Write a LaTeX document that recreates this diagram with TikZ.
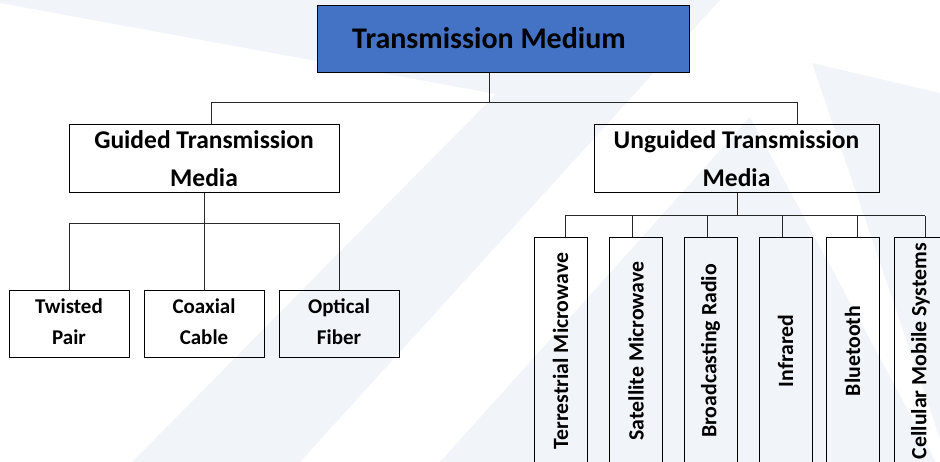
\documentclass[tikz,border=0pt]{standalone}
\usepackage{fontspec}
\setmainfont{Carlito}
\definecolor{wm}{RGB}{241,245,249}
\definecolor{topblue}{RGB}{68,114,196}
\definecolor{linegray}{RGB}{40,40,40}
\begin{document}
\begin{tikzpicture}[x=1pt,y=-1pt,
  box/.style={draw=black,line width=1pt,inner sep=0pt,align=center},
  link/.style={draw=linegray,line width=1pt}]
\useasboundingbox (0,0) rectangle (940,462);
% watermark
\fill[wm] (0,0) -- (720,0) -- (300,462) -- (132,462) -- (496,94) -- (0,3) -- cycle;
\fill[wm] (812,63) -- (940,93) -- (940,439) -- cycle;
\fill[wm] (750,117) -- (440,462) -- (936,462) -- cycle;
% nodes
\node[box,fill=topblue,minimum width=372pt,minimum height=67pt,
  font=\fontsize{30}{34}\selectfont\bfseries] (top) at (503,39.5)
  {\raisebox{4pt}{\kern-28pt Transmission Medium}};
\node[box,minimum width=270pt,minimum height=68pt,
  font=\fontsize{25.5}{38}\selectfont\bfseries] (guided) at (204,159)
  {Guided Transmission\\Media};
\node[box,minimum width=285pt,minimum height=68pt,
  font=\fontsize{25.5}{38}\selectfont\bfseries] (unguided) at (736.5,159)
  {Unguided Transmission\\Media};
\tikzset{small/.style={box,minimum width=120pt,minimum height=67pt,
  font=\fontsize{21}{31}\selectfont\bfseries,text depth=6pt}}
\node[small] (twisted) at (69,324.5) {Twisted\\Pair};
\node[small] (coax) at (204,324.5) {Coaxial\\Cable};
\node[small] (optical) at (339,324.5) {Optical\\Fiber};
\foreach \n/\x/\t in {t1/560.5/Terrestrial Microwave, t2/636/Satellite Microwave,
  t3/710.5/Broadcasting Radio, t4/785.5/Infrared, t5/852.5/Bluetooth,
  t6/920.5/Cellular Mobile Systems}{
  \node[box,minimum width=53pt,minimum height=226pt,
    font=\fontsize{21.8}{24}\selectfont\bfseries] (\n) at (\x,351)
    {\rotatebox{90}{\t}};
}
% connectors
\coordinate (j0) at (489,103);
\coordinate (ja) at (211,103);
\coordinate (jb) at (797,103);
\draw[link] (j0 |- top.south) -- (j0);
\draw[link] (ja |- guided.north) -- (ja) -- (jb) -- (jb |- unguided.north);
\coordinate (g) at (204,224);
\draw[link] (guided.south) -- (g);
\draw[link] (twisted.north) -- (twisted.north |- g) -- (optical.north |- g) -- (optical.north);
\draw[link] (coax.north) -- (g);
\coordinate (u) at (737,216);
\draw[link] (u |- unguided.south) -- (u);
\coordinate (u1) at (565,216);
\coordinate (u2) at (632,216);
\coordinate (u3) at (707,216);
\coordinate (u4) at (782,216);
\coordinate (u5) at (857,216);
\coordinate (u6) at (925,216);
\draw[link] (u1) -- (u6);
\draw[link] (u1) -- (u1 |- t1.north);
\draw[link] (u2) -- (u2 |- t2.north);
\draw[link] (u3) -- (u3 |- t3.north);
\draw[link] (u4) -- (u4 |- t4.north);
\draw[link] (u5) -- (u5 |- t5.north);
\draw[link] (u6) -- (u6 |- t6.north);
\end{tikzpicture}
\end{document}
